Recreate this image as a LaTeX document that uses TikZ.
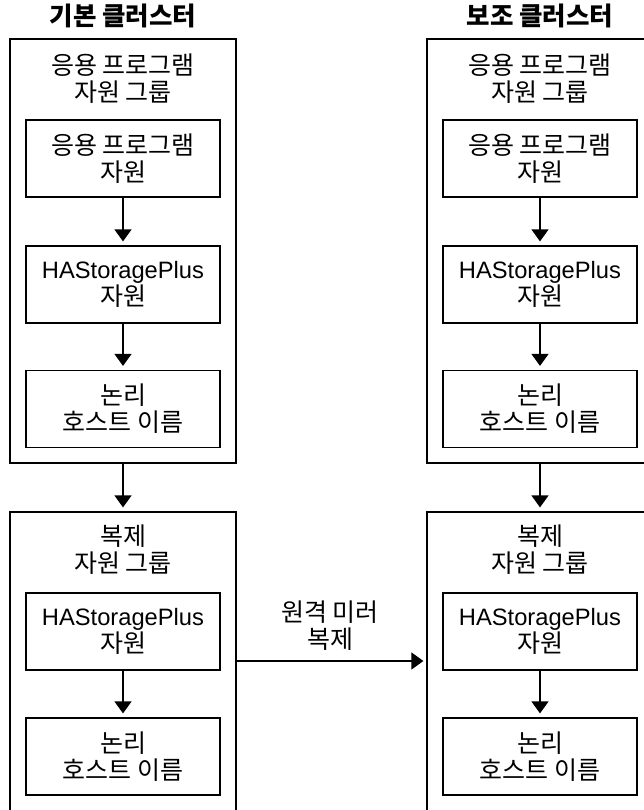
\documentclass[tikz,border=0pt]{standalone}
\usepackage{fontspec}
\setmainfont{Noto Sans CJK KR}
\newfontfamily\lat{Liberation Sans}
\usetikzlibrary{arrows.meta}
\newcommand\hasp{{\lat\fontsize{23.7}{27}\selectfont HAStoragePlus}}
\begin{document}
\begin{tikzpicture}[x=1pt,y=-1pt,
  box/.style={draw, line width=1.2pt, minimum width=194pt, minimum height=77pt, inner sep=0pt, align=center, font=\fontsize{25}{27}\selectfont},
  grp/.style={draw, line width=1.2pt, minimum width=226pt, inner sep=0pt},
  lbl/.style={align=center, inner sep=0pt, font=\fontsize{25}{27}\selectfont},
  ttl/.style={inner sep=0pt, font=\fontsize{25.5}{27}\selectfont\bfseries},
  arr/.style={line width=1.2pt, -{Triangle[length=12pt,width=17pt]}, shorten >=4pt}]
\clip (0,0) rectangle (644,810);
% titles
\node[ttl] (t1) at (123,16) {기본 클러스터};
\node[ttl] (t2) at (540,16) {보조 클러스터};
% left column
\node[grp, minimum height=424pt] (g1l) at (123,251) {};
\node[lbl] (l1l) at (123,79) {응용 프로그램\\자원 그룹};
\node[box] (a1l) at (123,158.5) {응용 프로그램\\자원};
\node[box] (b1l) at (123,284.5) {\hasp\\자원};
\node[box] (c1l) at (123,409) {논리\\호스트 이름};
\node[grp, minimum height=318pt] (g2l) at (123,671) {};
\node[lbl] (l2l) at (123,550) {복제\\자원 그룹};
\node[box] (d2l) at (123,631.5) {\hasp\\자원};
\node[box] (e2l) at (123,756.5) {논리\\호스트 이름};
% right column
\node[grp, minimum height=424pt] (g1r) at (540,251) {};
\node[lbl] (l1r) at (540,79) {응용 프로그램\\자원 그룹};
\node[box] (a1r) at (540,158.5) {응용 프로그램\\자원};
\node[box] (b1r) at (540,284.5) {\hasp\\자원};
\node[box] (c1r) at (540,409) {논리\\호스트 이름};
\node[grp, minimum height=318pt] (g2r) at (540,671) {};
\node[lbl] (l2r) at (540,550) {복제\\자원 그룹};
\node[box] (d2r) at (540,631.5) {\hasp\\자원};
\node[box] (e2r) at (540,756.5) {논리\\호스트 이름};
% arrows
\draw[arr] (a1l) -- (b1l);
\draw[arr] (b1l) -- (c1l);
\draw[arr] (g1l) -- (g2l.north);
\draw[arr] (d2l) -- (e2l);
\draw[arr] (a1r) -- (b1r);
\draw[arr] (b1r) -- (c1r);
\draw[arr] (g1r) -- (g2r.north);
\draw[arr] (d2r) -- (e2r);
% replication
\coordinate (rp) at (330,661);
\draw[arr, shorten >=3pt] (g2l.east |- rp) -- (g2r.west |- rp);
\node[lbl] (rl) at (330,626) {원격 미러\\복제};
\end{tikzpicture}
\end{document}
